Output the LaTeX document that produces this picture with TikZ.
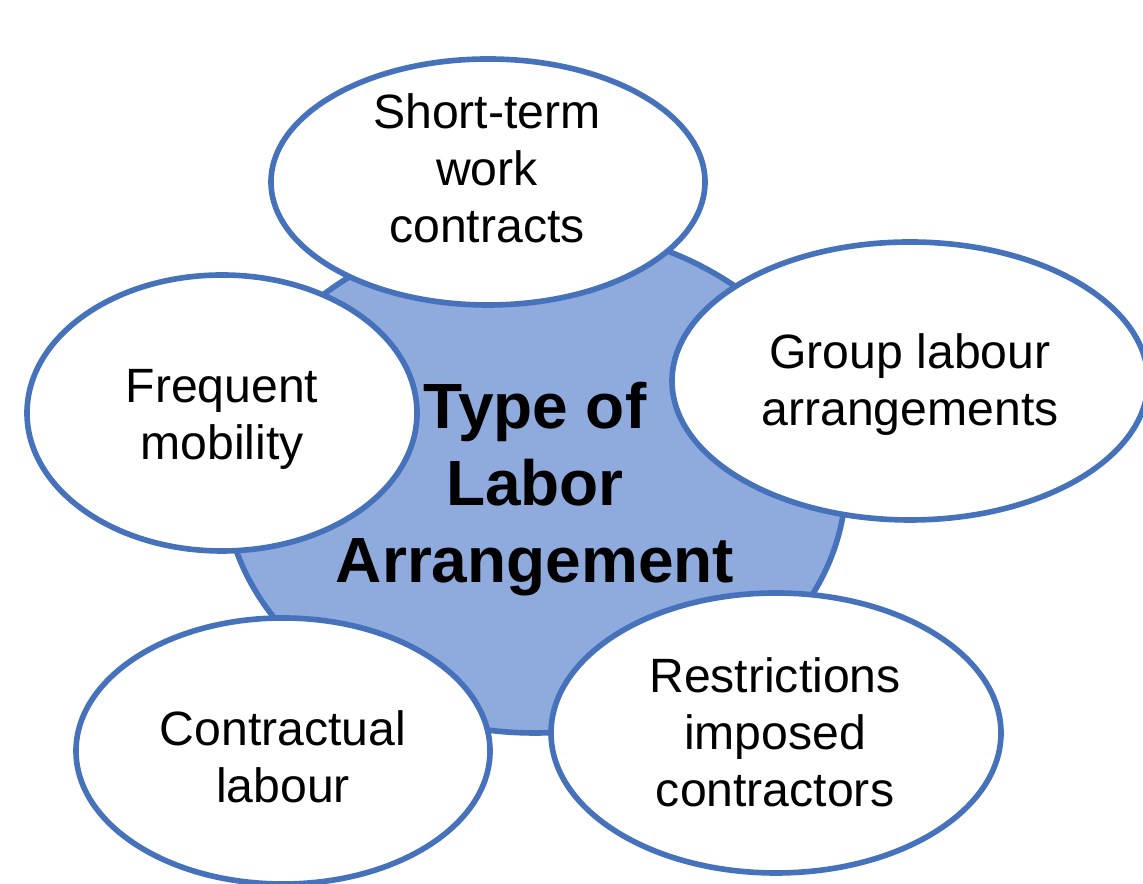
\documentclass[tikz,border=0pt]{standalone}
\usepackage{fontspec}
\setmainfont{Liberation Sans}
\usepackage{xcolor}
\definecolor{edgeblue}{HTML}{4672BC}
\definecolor{hubblue}{HTML}{8FAADC}
\tikzset{
  bubble/.style={draw=edgeblue,line width=1.6pt,fill=white},
  bubbletext/.style={align=center,font=\fontsize{13.7}{16.2}\selectfont},
  hubtext/.style={align=center,font=\bfseries\fontsize{18.2}{21.9}\selectfont},
}

\begin{document}
\begin{tikzpicture}
\useasboundingbox (0,0) rectangle (11.43,8.84);
\coordinate (H) at (5.35,4.04);
\draw[bubble,fill=hubblue] (H) ellipse [x radius=3.11,y radius=2.53];
\draw[bubble] (4.88,7.02) ellipse [x radius=2.17,y radius=1.23];
\draw[bubble] (9.10,5.03) ellipse [x radius=2.38,y radius=1.39];
\draw[bubble] (2.22,4.71) ellipse [x radius=1.95,y radius=1.38];
\draw[bubble] (2.83,1.33) ellipse [x radius=2.07,y radius=1.33];
\draw[bubble] (7.76,1.51) ellipse [x radius=2.25,y radius=1.40];
\node[hubtext] (hub) at (5.35,3.95) {Type of\\Labor\\Arrangement};
\node[bubbletext] (shortterm) at (4.87,7.16) {Short-term\\work\\contracts};
\node[bubbletext] (group) at (9.10,4.99) {Group labour\\arrangements};
\node[bubbletext] (mobility) at (2.22,4.65) {Frequent\\mobility};
\node[bubbletext] (contractual) at (2.83,1.27) {Contractual\\labour};
\node[bubbletext] (restrictions) at (7.75,1.52) {Restrictions\\imposed\\contractors};
\end{tikzpicture}
\end{document}
